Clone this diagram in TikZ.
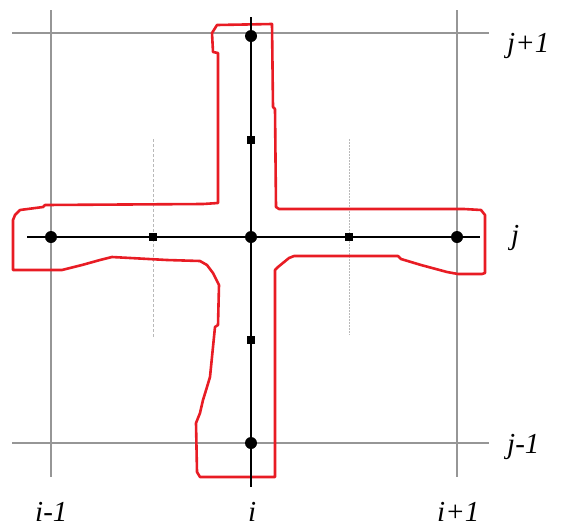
\documentclass[tikz,border=0pt]{standalone}
\usepackage{fontspec}
\setmainfont{Liberation Serif}
\usepackage{tikz}
\usetikzlibrary{positioning}
\definecolor{outline}{RGB}{232,28,36}
\definecolor{gridln}{RGB}{150,150,150}
\tikzset{
  bigdot/.style={circle, fill=black, inner sep=0pt, minimum size=12pt},
  smallsq/.style={rectangle, fill=black, inner sep=0pt, minimum size=8pt},
  lbl/.style={font=\fontsize{29}{34}\selectfont\itshape, inner sep=0pt, anchor=base west},
}

\begin{document}
\begin{tikzpicture}[x=1pt, y=-1pt]
\useasboundingbox (0,0) rectangle (562,531);
% ---- grid lines
\draw[gridln, line width=1.3pt] (51,10) -- (51,477);
\draw[gridln, line width=1.1pt] (457,10) -- (457,477);
\draw[gridln, line width=1.3pt] (12,33) -- (489,33);
\draw[gridln, line width=1.3pt] (12,443) -- (489,443);
% ---- faint dotted lines
\draw[gray!55, line width=0.7pt, dash pattern=on 3pt off 2pt] (153,139) -- (153,338);
\draw[gray!55, line width=0.7pt, dash pattern=on 2pt off 1pt] (349,139) -- (349,335);
% ---- red outline
\draw[outline, line width=2.6pt, line join=round]
  (217,25) -- (272,24) -- (273,107) -- (275,109) -- (276,207) -- (279,209)
  -- (464,209) -- (481,210) -- (485,215) -- (485,273) -- (482,274)
  -- (458,274) -- (447,272) -- (421,265) -- (401,259) -- (398,256)
  -- (294,256) -- (289,258) -- (278,267) -- (275,270) -- (275,477)
  -- (200,477) -- (197,472) -- (196,423) -- (200,413) -- (203,400)
  -- (207,387) -- (210,377) -- (213,347) -- (215,327) -- (218,325)
  -- (219,285) -- (213,273) -- (207,265) -- (200,261) -- (167,260)
  -- (112,257) -- (100,260) -- (82,265) -- (62,270) -- (13,270)
  -- (13,220) -- (15,215) -- (20,210) -- (43,207) -- (45,205)
  -- (203,204) -- (218,203) -- (218,53) -- (213,52) -- (212,33) -- cycle;
% ---- stencil axes
\draw[black, line width=1.2pt] (27,237) -- (480,237);
\draw[black, line width=1.2pt] (251,17) -- (251,487);
% ---- points
\node[bigdot] (west) at (51,237) {};
\node[bigdot] (centre) at (251,237) {};
\node[bigdot] (east) at (457,237) {};
\node[bigdot] (north) at (251,36) {};
\node[bigdot] (south) at (251,443) {};
\node[smallsq] (hw) at (153,237) {};
\node[smallsq] (he) at (349,237) {};
\node[smallsq] (hn) at (251,140) {};
\node[smallsq] (hs) at (251,340) {};
% ---- labels
\node[lbl] (jp) at (507,52) {j+1};
\node[lbl] (jc) at (511,244) {j};
\node[lbl] (jm) at (507,453) {j-1};
\node[lbl] (im) at (35,521) {i-1};
\node[lbl] (ic) at (248,521) {i};
\node[lbl] (ip) at (437,521) {i+1};
\end{tikzpicture}
\end{document}
